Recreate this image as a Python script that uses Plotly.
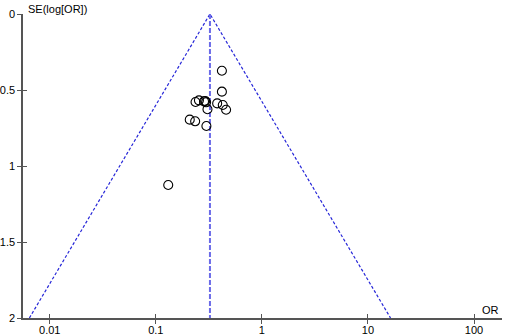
import numpy as np
import plotly.graph_objects as go

# Study data
odds_ratio = [0.42, 0.42, 0.237, 0.255, 0.292, 0.298, 0.307, 0.379, 0.428, 0.46, 0.209, 0.235, 0.30, 0.131, 0.285]
se_log_or = [0.373, 0.511, 0.579, 0.568, 0.572, 0.581, 0.627, 0.588, 0.599, 0.63, 0.695, 0.706, 0.737, 1.125, 0.575]
pooled_or = 0.324
se_max = 2.0

x_ticks = [0.01, 0.1, 1, 10, 100]
x_tick_labels = ["0.01", "0.1", "1", "10", "100"]
y_ticks = [0, 0.5, 1, 1.5, 2]
y_tick_labels = ["0", "0.5", "1", "1.5", "2"]

lower = pooled_or * np.exp(-1.96 * se_max)
upper = pooled_or * np.exp(1.96 * se_max)

fig = go.Figure()
fig.add_trace(go.Scatter(
    x=[lower, pooled_or, upper], y=[se_max, 0, se_max],
    mode="lines", line=dict(color="#2626d8", width=1.2, dash="3px,2px"),
    hoverinfo="skip", showlegend=False))
fig.add_trace(go.Scatter(
    x=[pooled_or, pooled_or], y=[0, se_max],
    mode="lines", line=dict(color="#6b6be8", width=2, dash="5px,2px"),
    hoverinfo="skip", showlegend=False))
fig.add_trace(go.Scatter(
    x=odds_ratio, y=se_log_or, mode="markers",
    marker=dict(symbol="circle-open", size=9, color="black", line=dict(width=1.1, color="black")),
    showlegend=False))

xr = [np.log10(0.01) - 0.252, np.log10(100) + 0.264]
axis_common = dict(showgrid=False, zeroline=False, linecolor="#555555", linewidth=1.5,
                   tickcolor="#555555", tickwidth=1, ticklen=4, automargin=False,
                   tickfont=dict(family="Liberation Sans, Arial", size=11, color="black"))

fig.update_layout(
    width=505, height=335,
    margin=dict(l=23, r=3, t=14, b=17, autoexpand=False),
    plot_bgcolor="white", paper_bgcolor="white",
    xaxis=dict(type="log", range=xr, tickvals=x_ticks, ticktext=x_tick_labels,
               ticks="outside", showline=True, ticklabelstandoff=-3, **axis_common),
    yaxis=dict(range=[2, 0], tickvals=y_ticks, ticktext=y_tick_labels,
               ticks="outside", showline=True, **axis_common),
    xaxis2=dict(type="log", range=xr, tickvals=x_ticks, overlaying="x", anchor="y",
                side="bottom", ticks="inside", showticklabels=False, showline=False,
                showgrid=False, zeroline=False, tickcolor="#555555", ticklen=4, automargin=False),
    yaxis2=dict(range=[2, 0], tickvals=y_ticks, overlaying="y", anchor="x",
                side="left", ticks="inside", showticklabels=False, showline=False,
                showgrid=False, zeroline=False, tickcolor="#555555", ticklen=4, automargin=False),
    annotations=[
        dict(text="SE(log[OR])", xref="paper", yref="paper", x=0, y=1, xanchor="left",
             yanchor="middle", xshift=3, yshift=5, showarrow=False,
             font=dict(family="Liberation Sans, Arial", size=11, color="black")),
        dict(text="OR", xref="paper", yref="paper", x=1, y=0, xanchor="right",
             yanchor="bottom", yshift=0, xshift=-1, showarrow=False,
             font=dict(family="Liberation Sans, Arial", size=11, color="black")),
    ],
)
# invisible trace to activate secondary axes
fig.add_trace(go.Scatter(x=[1], y=[1], xaxis="x2", yaxis="y2", mode="markers",
                         marker=dict(opacity=0), hoverinfo="skip", showlegend=False))

fig.write_html("out.html", config={"displayModeBar": False},
               post_script="document.body.style.margin='0';document.body.style.overflow='hidden';")
